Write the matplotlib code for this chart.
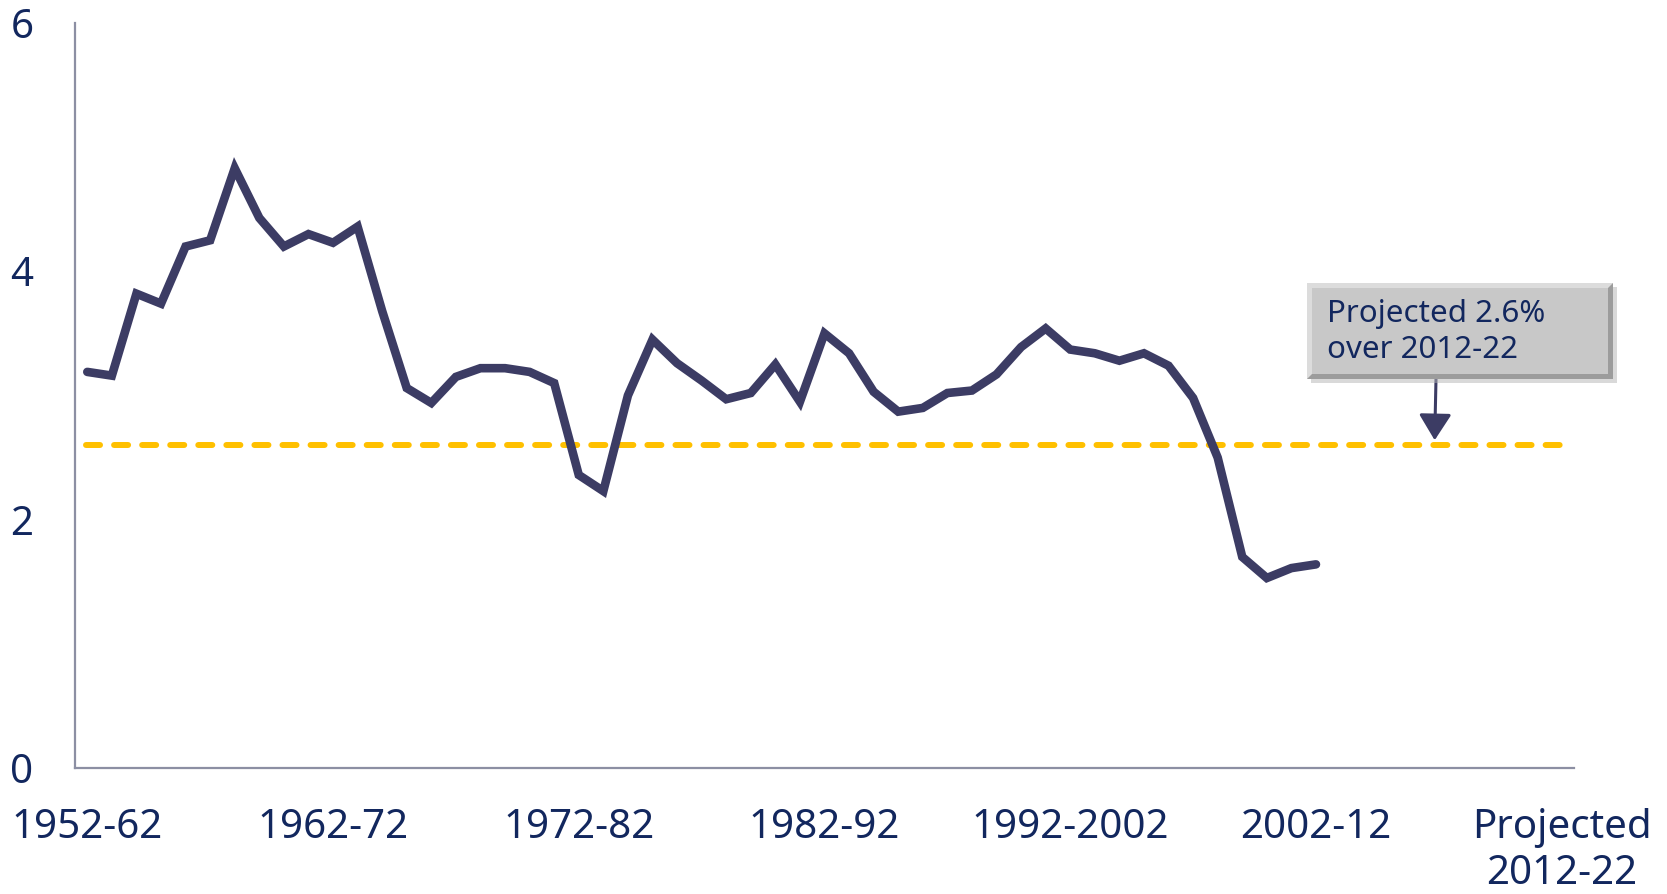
import matplotlib
matplotlib.use('Agg')
import matplotlib.pyplot as plt
from matplotlib.patches import Rectangle, Polygon
from matplotlib.patches import ArrowStyle

# Data: rolling 10-year growth, start year of each period
start_years = list(range(1952, 2003))
growth = [3.19, 3.16, 3.82, 3.74, 4.20, 4.25, 4.83, 4.43, 4.20, 4.30,
          4.23, 4.36, 3.68, 3.06, 2.94, 3.15, 3.22, 3.22, 3.19, 3.10,
          2.36, 2.23, 3.00, 3.45, 3.26, 3.12, 2.97, 3.02, 3.25, 2.95,
          3.50, 3.34, 3.03, 2.87, 2.90, 3.02, 3.04, 3.17, 3.39, 3.54,
          3.37, 3.34, 3.28, 3.34, 3.24, 2.98, 2.50, 1.70, 1.53, 1.61,
          1.64]
projected = 2.6
projected_year = 2012

tick_years = [1952, 1962, 1972, 1982, 1992, 2002, 2012]
tick_labels = ['1952-62', '1962-72', '1972-82', '1982-92', '1992-2002',
               '2002-12', 'Projected\n2012-22']
y_ticks = [0, 2, 4, 6]

# Styles
C_TEXT = '#12275E'
C_LINE = '#3C3C64'
C_DASH = '#FFC000'
C_SPINE = '#8C8FA3'

plt.rcParams['font.family'] = ['Noto Sans', 'DejaVu Sans']

W, H = 1667, 894
fig = plt.figure(figsize=(W / 100, H / 100), dpi=100)
ax = fig.add_axes([75 / W, 1 - 768 / H, (1574 - 75) / W, (768 - 23) / H])

ax.plot(start_years, growth, color=C_LINE, linewidth=6.2,
        solid_joinstyle='miter', solid_capstyle='round', zorder=3)
ax.plot([start_years[0] - 0.05, projected_year + 0.1], [projected, projected],
        color=C_DASH, linewidth=4.3, dashes=(2.35, 2.35),
        dash_capstyle='round', zorder=2)

ax.set_xlim(1951.5, 2012.5)
ax.set_ylim(0, 6)
ax.set_xticks(tick_years)
ax.set_xticklabels(tick_labels, fontsize=29, color=C_TEXT, ha='center',
                   linespacing=1.2)
ax.set_yticks(y_ticks)
ax.set_yticklabels([str(v) for v in y_ticks], fontsize=29, color=C_TEXT)
ax.tick_params(axis='x', length=0, pad=29)
ax.tick_params(axis='y', length=0, pad=30)

for side in ['top', 'right']:
    ax.spines[side].set_visible(False)
for side in ['left', 'bottom']:
    ax.spines[side].set_color(C_SPINE)
    ax.spines[side].set_linewidth(1.6)

# Annotation box with bevel (pixel layout -> figure fraction)
def fx(px):
    return px / W

def fy(py):
    return 1 - py / H

bx0, bx1, by0, by1 = 1307, 1613, 283, 379
bev = 5
fig.patches.append(Rectangle((fx(bx0 + 4), fy(by1 + 4)), fx(bx1 - bx0), (by1 - by0) / H,
                             transform=fig.transFigure, facecolor='#B5B5B5',
                             alpha=0.5, edgecolor='none', zorder=4))
fig.patches.append(Rectangle((fx(bx0), fy(by1)), fx(bx1 - bx0), (by1 - by0) / H,
                             transform=fig.transFigure, facecolor='#9C9C9C',
                             edgecolor='none', zorder=5))
fig.patches.append(Polygon([(fx(bx0), fy(by0)), (fx(bx1), fy(by0)),
                            (fx(bx1 - bev), fy(by0 + bev)), (fx(bx0 + bev), fy(by1 - bev)),
                            (fx(bx0), fy(by1))],
                           closed=True, transform=fig.transFigure,
                           facecolor='#DCDCDC', edgecolor='none', zorder=6))
fig.patches.append(Rectangle((fx(bx0 + bev), fy(by1 - bev)), fx(bx1 - bx0 - 2 * bev),
                             (by1 - by0 - 2 * bev) / H, transform=fig.transFigure,
                             facecolor='#C8C8C8', edgecolor='none', zorder=7))
fig.text(fx(bx0 + 20), fy((by0 + by1) / 2 + 1), 'Projected 2.6%\nover 2012-22',
         fontsize=22.5, color=C_TEXT, ha='left', va='center', linespacing=1.3,
         zorder=8)

# Arrow from the box down to the projected line
arrow_x = 2006.83
ax.annotate('', xy=(arrow_x, 2.64), xycoords='data',
            xytext=(fx(1436), fy(by1)), textcoords='figure fraction',
            arrowprops=dict(arrowstyle=ArrowStyle('-|>', head_length=0.8, head_width=0.5),
                            mutation_scale=20, color=C_LINE, linewidth=2.2,
                            shrinkA=0, shrinkB=0),
            annotation_clip=False, zorder=9)

fig.savefig('out.png', dpi=100)
